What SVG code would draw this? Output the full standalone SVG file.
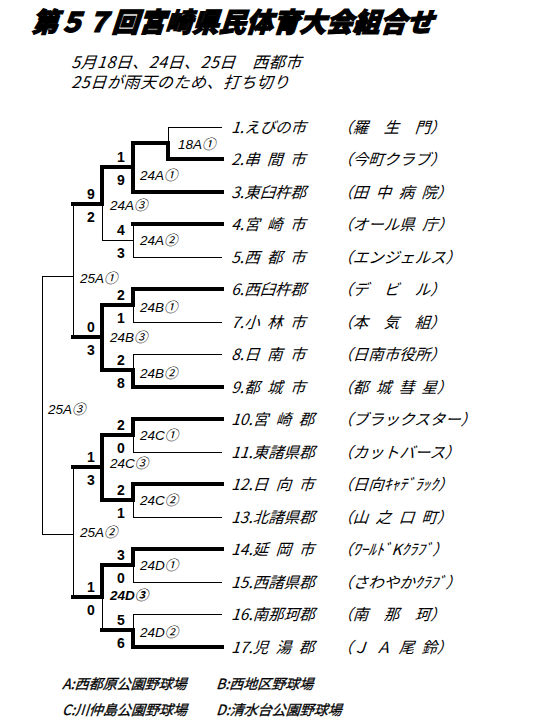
<svg xmlns="http://www.w3.org/2000/svg" width="540" height="720" viewBox="0 0 540 720">
<style>
.title{font-family:"Noto Sans CJK JP",sans-serif;font-size:27px;font-weight:900;fill:#000;stroke:#000;stroke-width:1.2px}
.sub{font-family:"Noto Sans CJK JP",sans-serif;font-size:16px;fill:#000}
.team{font-family:"Noto Sans CJK JP",sans-serif;font-size:15.5px;fill:#000;word-spacing:4px}
.lbl{font-family:"Liberation Sans","Noto Sans CJK JP",sans-serif;font-size:13.5px;font-style:italic;fill:#000}
.lblb{font-weight:bold}
.sc{font-family:"Liberation Sans",sans-serif;font-size:14px;font-weight:bold;text-anchor:middle;fill:#000}
.leg{font-family:"Noto Sans CJK JP",sans-serif;font-size:14px;fill:#000;stroke:#000;stroke-width:0.3px}
.thin{fill:none;stroke:#000;stroke-width:1;shape-rendering:crispEdges}
.thick{fill:none;stroke:#000;stroke-width:4;stroke-linejoin:miter;stroke-linecap:square}
</style>
<rect width="540" height="720" fill="#fff"/>
<g id="title"><text class="title" transform="translate(31,32) skewX(-18)" textLength="402" lengthAdjust="spacingAndGlyphs">第５７回宮崎県民体育大会組合せ</text></g>
<g id="subtitle">
<text class="sub" transform="translate(71,68) skewX(-18)" textLength="230" lengthAdjust="spacing">5月18日、24日、25日　西都市</text>
<text class="sub" transform="translate(71,88) skewX(-18)" textLength="218" lengthAdjust="spacing">25日が雨天のため、打ち切り</text>
</g>
<g id="connectors">
<path class="thin" d="M168,127H222 M168,159H222 M133,192H222 M133,224H222 M133,257H222 M133,289H222 M133,322H222 M133,354H222 M133,387H222 M133,419H222 M133,452H222 M133,484H222 M133,517H222 M133,549H222 M133,582H222 M133,614H222 M133,647H222
M168,127V159 M133,143V192 M133,224V257 M133,289V322 M133,354V387 M133,419V452 M133,484V517 M133,549V582 M133,614V647
M102,167V240 M102,305V370 M102,435V500 M102,565V630 M73,204V337 M73,467V597 M42,276V534
M133,143H168 M102,167H133 M102,240H133 M73,204H102 M102,305H133 M102,370H133 M73,337H102 M42,276H73 M102,435H133 M102,500H133 M73,467H102 M102,565H133 M102,630H133 M73,597H102 M42,534H73"/>
<path class="thick" d="M222,159H168V143H133V192H222 M133,167H102V204H73 M133,224H222 M222,289H133V305H102V370H133V387H222 M102,337H73 M222,419H133V435H102V500H133V484H222 M102,467H73 M222,549H133V565H102V597H73 M102,630H133V647H222"/>
</g>
<g id="team-1"><text class="team" transform="translate(231,133) skewX(-18)">1.えびの市<tspan x="106">（羅　生　門）</tspan></text></g>
<g id="team-2"><text class="team" transform="translate(231,165) skewX(-18)">2.串 間 市<tspan x="106">（今町クラブ）</tspan></text></g>
<g id="team-3"><text class="team" transform="translate(231,198) skewX(-18)">3.東臼杵郡<tspan x="106">（田 中 病 院）</tspan></text></g>
<g id="team-4"><text class="team" transform="translate(231,230) skewX(-18)">4.宮 崎 市<tspan x="106">（オール県 庁）</tspan></text></g>
<g id="team-5"><text class="team" transform="translate(231,263) skewX(-18)">5.西 都 市<tspan x="106">（エンジェルス）</tspan></text></g>
<g id="team-6"><text class="team" transform="translate(231,295) skewX(-18)">6.西臼杵郡<tspan x="106">（デ　ビ　ル）</tspan></text></g>
<g id="team-7"><text class="team" transform="translate(231,328) skewX(-18)">7.小 林 市<tspan x="106">（本　気　組）</tspan></text></g>
<g id="team-8"><text class="team" transform="translate(231,360) skewX(-18)">8.日 南 市<tspan x="106">（日南市役所）</tspan></text></g>
<g id="team-9"><text class="team" transform="translate(231,393) skewX(-18)">9.都 城 市<tspan x="106">（都 城 彗 星）</tspan></text></g>
<g id="team-10"><text class="team" transform="translate(231,425) skewX(-18)">10.宮 崎 郡<tspan x="106">（ブラックスター）</tspan></text></g>
<g id="team-11"><text class="team" transform="translate(231,458) skewX(-18)">11.東諸県郡<tspan x="106">（カットバース）</tspan></text></g>
<g id="team-12"><text class="team" transform="translate(231,490) skewX(-18)">12.日 向 市<tspan x="106">（日向ｷｬﾃﾞﾗｯｸ）</tspan></text></g>
<g id="team-13"><text class="team" transform="translate(231,523) skewX(-18)">13.北諸県郡<tspan x="106">（山 之 口 町）</tspan></text></g>
<g id="team-14"><text class="team" transform="translate(231,555) skewX(-18)">14.延 岡 市<tspan x="106">（ﾜｰﾙﾄﾞKｸﾗﾌﾞ）</tspan></text></g>
<g id="team-15"><text class="team" transform="translate(231,588) skewX(-18)">15.西諸県郡<tspan x="106">（さわやかｸﾗﾌﾞ）</tspan></text></g>
<g id="team-16"><text class="team" transform="translate(231,620) skewX(-18)">16.南那珂郡<tspan x="106">（南　那　珂）</tspan></text></g>
<g id="team-17"><text class="team" transform="translate(231,653) skewX(-18)">17.児 湯 郡<tspan x="106">（Ｊ Ａ 尾 鈴）</tspan></text></g>
<g id="match-18A1"><text class="lbl" x="178" y="149">18A①</text></g>
<g id="match-24A1"><text class="lbl" x="140" y="180">24A①</text><text class="sc" x="121" y="162">1</text><text class="sc" x="121" y="185">9</text></g>
<g id="match-24A2"><text class="lbl" x="140" y="245">24A②</text><text class="sc" x="121" y="235">4</text><text class="sc" x="121" y="258">3</text></g>
<g id="match-24A3"><text class="lbl" x="110" y="210">24A③</text><text class="sc" x="91" y="199">9</text><text class="sc" x="91" y="222">2</text></g>
<g id="match-25A1"><text class="lbl" x="80" y="283">25A①</text></g>
<g id="match-24B1"><text class="lbl" x="140" y="312">24B①</text><text class="sc" x="121" y="300">2</text><text class="sc" x="121" y="323">1</text></g>
<g id="match-24B2"><text class="lbl" x="140" y="378">24B②</text><text class="sc" x="121" y="365">2</text><text class="sc" x="121" y="388">8</text></g>
<g id="match-24B3"><text class="lbl" x="110" y="342">24B③</text><text class="sc" x="91" y="332">0</text><text class="sc" x="91" y="355">3</text></g>
<g id="match-25A3"><text class="lbl" x="48" y="414">25A③</text></g>
<g id="match-24C1"><text class="lbl" x="140" y="440">24C①</text><text class="sc" x="121" y="430">2</text><text class="sc" x="121" y="453">0</text></g>
<g id="match-24C2"><text class="lbl" x="140" y="505">24C②</text><text class="sc" x="121" y="495">2</text><text class="sc" x="121" y="518">1</text></g>
<g id="match-24C3"><text class="lbl" x="110" y="468">24C③</text><text class="sc" x="91" y="462">1</text><text class="sc" x="91" y="485">3</text></g>
<g id="match-25A2"><text class="lbl" x="80" y="537">25A②</text></g>
<g id="match-24D1"><text class="lbl" x="140" y="570">24D①</text><text class="sc" x="121" y="560">3</text><text class="sc" x="121" y="583">0</text></g>
<g id="match-24D2"><text class="lbl" x="140" y="637">24D②</text><text class="sc" x="121" y="625">5</text><text class="sc" x="121" y="648">6</text></g>
<g id="match-24D3"><text class="lbl lblb" x="110" y="600">24D③</text><text class="sc" x="91" y="592">1</text><text class="sc" x="91" y="615">0</text></g>
<g id="legend">
<text class="leg" transform="translate(62,689) skewX(-18)">A:西都原公園野球場</text>
<text class="leg" transform="translate(216,689) skewX(-18)">B:西地区野球場</text>
<text class="leg" transform="translate(62,715) skewX(-18)">C:川仲島公園野球場</text>
<text class="leg" transform="translate(216,715) skewX(-18)">D:清水台公園野球場</text>
</g>
</svg>
